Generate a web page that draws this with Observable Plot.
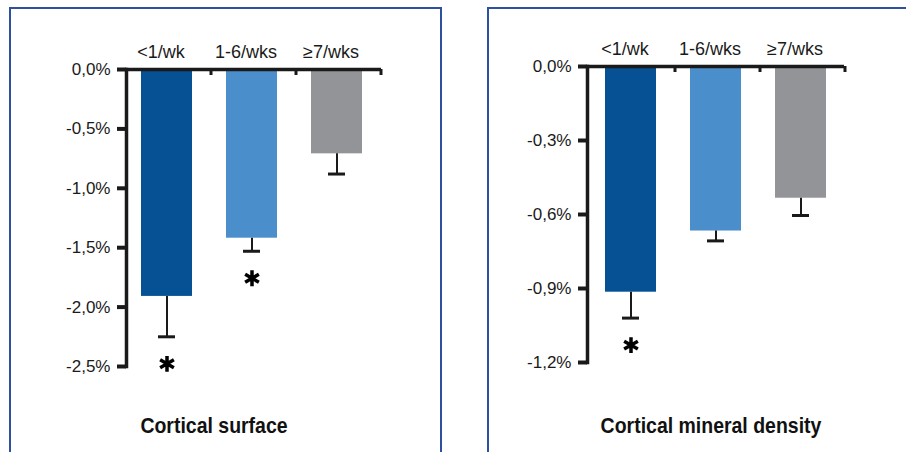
<!DOCTYPE html>
<html>
<head>
<meta charset="utf-8">
<script src="https://cdn.jsdelivr.net/npm/d3@7"></script>
<script src="https://cdn.jsdelivr.net/npm/@observablehq/plot@0.6"></script>
<style>
  html, body { margin: 0; padding: 0; background: #fff; }
  #wrap { position: relative; width: 906px; height: 452px; overflow: hidden; background: #fff; }
  .panel { position: absolute; box-sizing: border-box; border: 2px solid #2f4f9f; border-bottom: none; }
  .chart { position: absolute; top: 0; }
  .title { position: absolute; width: 300px; text-align: center; font-family: "Liberation Sans", Arial, sans-serif;
           font-weight: bold; font-size: 22px; line-height: 22px; color: #111; white-space: nowrap;
           transform: scaleX(0.885); transform-origin: 50% 50%; }
</style>
</head>
<body>
<div id="wrap">
  <div class="panel" style="left:9px; top:7px; width:433px; height:460px;"></div>
  <div class="panel" style="left:487px; top:7px; width:440px; height:460px;"></div>
  <div id="left" class="chart" style="left:0px;"></div>
  <div id="right" class="chart" style="left:450px;"></div>
  <div class="title" style="left:63.5px; top:414.5px;">Cortical surface</div>
  <div class="title" style="left:561px; top:414.5px;">Cortical mineral density</div>
</div>
<script>
// Training frequency groups and their bar colours
const categories = ["<1/wk", "1-6/wks", "≥7/wks"];
const barColors = ["#055194", "#4a8fcc", "#939498"];

// Cortical surface: mean % change, standard error, significance
const surfaceMean = [-1.91, -1.42, -0.71];
const surfaceSE = [0.34, 0.11, 0.17];
const surfaceSig = [true, true, false];
const surfaceTicks = [0, -0.5, -1.0, -1.5, -2.0, -2.5];

// Cortical mineral density: mean % change, standard error, significance
const densityMean = [-0.915, -0.667, -0.534];
const densitySE = [0.105, 0.04, 0.07];
const densitySig = [true, false, false];
const densityTicks = [0, -0.3, -0.6, -0.9, -1.2];

const ink = "#1a1a1a";
const font = "'Liberation Sans', Arial, sans-serif";
const pct = d => d3.format(".1f")(d).replace("−", "-").replace(".", ",") + "%";

function barPanel({mean, se, sig, ticks, width, marginLeft, marginRight, marginTop, marginBottom, xRange}) {
  const rows = categories.map((c, i) => ({cat: c, value: mean[i], low: mean[i] - se[i], sig: sig[i]}));
  return Plot.plot({
    width, height: 452,
    marginLeft, marginRight, marginTop, marginBottom,
    style: {fontFamily: font, fontSize: "17px", color: ink, background: "transparent", overflow: "visible"},
    x: {domain: categories, range: xRange, paddingInner: 0.4, paddingOuter: 0.2},
    y: {domain: [ticks[ticks.length - 1], 0]},
    color: {domain: categories, range: barColors},
    marks: [
      Plot.barY(rows, {x: "cat", y: "value", fill: "cat"}),
      // error bars
      Plot.ruleX(rows, {x: "cat", y1: "value", y2: "low", stroke: ink, strokeWidth: 2}),
      Plot.tickY(rows, {x: "cat", y: "low", stroke: ink, strokeWidth: 3, insetLeft: 17, insetRight: 17}),
      // significance markers
      Plot.dot(rows.filter(d => d.sig), {x: "cat", y: "low", dy: 27, symbol: "asterisk", r: 7.5, stroke: "#000", strokeWidth: 3.5}),
      // axes
      Plot.axisY({ticks, tickFormat: pct, tickSize: 9, tickPadding: 7, strokeWidth: 4, label: null,
                  fontSize: 17, fontFamily: font, fill: ink}),
      Plot.frame({anchor: "left", stroke: ink, strokeWidth: 3.5}),
      Plot.ruleY([0], {stroke: ink, strokeWidth: 3.5}),
      Plot.ruleX(categories, {x: d => d, y1: 0, y2: 0, insetBottom: -6, dx: 44, stroke: ink, strokeWidth: 3}),
      Plot.axisX({anchor: "top", tickSize: 0, tickPadding: 12, dx: -6, label: null,
                  fontSize: 18, fontFamily: font, fill: ink})
    ]
  });
}

document.getElementById("left").append(barPanel({
  mean: surfaceMean, se: surfaceSE, sig: surfaceSig, ticks: surfaceTicks,
  width: 450, marginLeft: 126, marginRight: 69, marginTop: 69, marginBottom: 86, xRange: [124, 379]
}));

document.getElementById("right").append(barPanel({
  mean: densityMean, se: densitySE, sig: densitySig, ticks: densityTicks,
  width: 456, marginLeft: 137, marginRight: 62, marginTop: 66, marginBottom: 90, xRange: [138, 393]
}));
</script>
</body>
</html>
